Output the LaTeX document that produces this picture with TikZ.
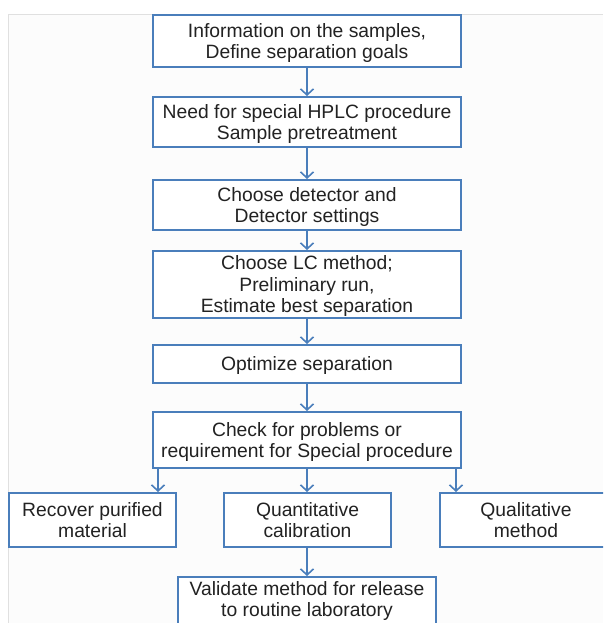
\documentclass[tikz,border=0pt]{standalone}
\usepackage{fontspec}
\setmainfont{Liberation Sans}
\usetikzlibrary{arrows.meta}
\definecolor{boxblue}{HTML}{4A7EBB}
\definecolor{txt}{HTML}{222222}
\begin{document}
\begin{tikzpicture}[x=1pt,y=-1pt,
  box/.style={draw=boxblue, line width=2pt, fill=white, align=center, inner sep=0pt,
    text=txt, text depth=0pt, font=\fontsize{19.3}{21.5}\selectfont},
  arr/.style={draw=boxblue, line width=1.6pt, -{Straight Barb[length=6pt,width=13pt]}}]
\useasboundingbox (0,0) rectangle (603,623);
\clip (0,0) rectangle (603,623);
\fill[white] (0,0) rectangle (603,623);
\fill[black!1] (8,15) rectangle (603,623);
\draw[black!12, line width=1pt] (603,15) -- (8,15) -- (8,623);
\node[box, minimum width=308pt, minimum height=52pt] (b1) at (307,41) {Information on the samples,\\Define separation goals};
\node[box, minimum width=308pt, minimum height=50pt] (b2) at (307,122) {Need for special HPLC procedure\\Sample pretreatment};
\node[box, minimum width=308pt, minimum height=50pt] (b3) at (307,205) {Choose detector and\\Detector settings};
\node[box, minimum width=308pt, minimum height=67pt] (b4) at (307,284.5) {Choose LC method;\\Preliminary run,\\Estimate best separation};
\node[box, minimum width=308pt, minimum height=38pt] (b5) at (307,364) {Optimize separation};
\node[box, minimum width=308pt, minimum height=56pt] (b6) at (307,440) {Check for problems or\\requirement for Special procedure};
\node[box, minimum width=167pt, minimum height=54pt] (lb) at (92.5,520) {Recover purified\\material};
\node[box, minimum width=167pt, minimum height=54pt] (mb) at (307.5,520) {Quantitative\\calibration};
\node[box, minimum width=172pt, minimum height=54pt] (rb) at (526,520) {Qualitative\\method};
\node[box, minimum width=258pt, minimum height=48pt, text depth=4pt] (b7) at (307,601) {Validate method for release\\to routine laboratory};
\draw[arr] (b1.south) -- (b2.north);
\draw[arr] (b2.south) -- (b3.north);
\draw[arr] (b3.south) -- (b4.north);
\draw[arr] (b4.south) -- (b5.north);
\draw[arr] (b5.south) -- (b6.north);
\draw[arr] ([xshift=6pt]b6.south west) -- ([xshift=6pt]b6.south west |- lb.north);
\draw[arr] (b6.south) -- (b6.south |- mb.north);
\draw[arr] ([xshift=-6pt]b6.south east) -- ([xshift=-6pt]b6.south east |- rb.north);
\draw[arr] (b6.south |- mb.south) -- (b7.north);
\end{tikzpicture}
\end{document}
